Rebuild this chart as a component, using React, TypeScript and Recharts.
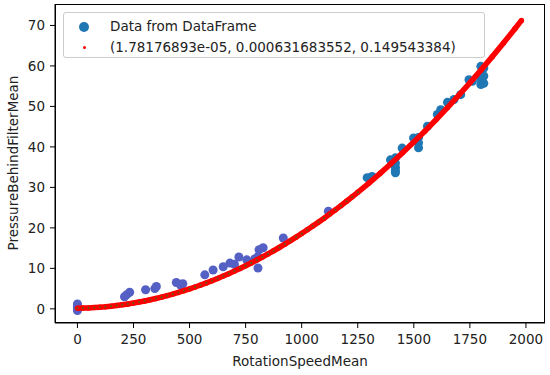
import { ScatterChart, Scatter, XAxis, YAxis, Legend, Cell } from "recharts";

// measured points (RotationSpeedMean, PressureBehindFilterMean)
const speedMean = [
  0, 0, 0, 0, 210, 220, 233, 304, 345, 352, 441, 460, 470,
  568, 605, 650, 680, 700, 720, 755, 790, 805, 805, 810, 828, 918, 1119,
  1292, 1314, 1396, 1418, 1418, 1418, 1418, 1418, 1448, 1499, 1521, 1521, 1521,
  1561, 1605, 1620, 1650, 1679, 1709, 1746, 1761, 1799, 1799, 1799, 1799, 1812, 1812, 1812,
];
const pressureMean = [
  -0.4, 0.3, 0.8, 1.2, 3.0, 3.5, 4.1, 4.7, 5.0, 5.5, 6.5, 5.9, 6.2,
  8.4, 9.6, 10.4, 11.3, 11.0, 12.8, 12.1, 12.3, 10.1, 12.9, 14.6, 15.1, 17.5, 24.1,
  32.4, 32.7, 36.8, 37.3, 36.0, 35.0, 34.2, 33.6, 39.7, 42.2, 42.3, 41.0, 39.8,
  45.1, 48.0, 49.2, 51.0, 51.7, 52.9, 56.6, 56.2, 59.9, 58.2, 56.8, 55.4, 59.5, 57.5, 55.7,
];

// fitted curve, read along the red band
const fitSpeed = [
  0, 25, 50, 75, 100, 125, 150, 175, 200, 225, 250, 275, 300, 325, 350, 375, 400, 425,
  450, 475, 500, 525, 550, 575, 600, 625, 650, 675, 700, 725, 750, 775, 800, 825, 850,
  875, 900, 925, 950, 975, 1000, 1025, 1050, 1075, 1100, 1125, 1150, 1175, 1200, 1225,
  1250, 1300, 1350, 1400, 1450, 1500, 1550, 1600, 1650, 1700, 1750, 1800, 1850, 1900,
  1950, 1980,
];
const fitPressure = [
  0.15, 0.18, 0.23, 0.3, 0.39, 0.5, 0.65, 0.81, 0.99, 1.2, 1.42, 1.67, 1.94, 2.24,
  2.55, 2.89, 3.25, 3.64, 4.04, 4.47, 4.92, 5.39, 5.89, 6.4, 6.94, 7.5, 8.09, 8.69,
  9.32, 9.97, 10.65, 11.34, 12.06, 12.8, 13.56, 14.35, 15.15, 15.98, 16.83, 17.7,
  18.6, 19.52, 20.46, 21.42, 22.4, 23.41, 24.44, 25.49, 26.57, 27.67, 28.78, 31.08,
  33.48, 35.96, 38.53, 41.19, 43.94, 46.77, 49.7, 52.72, 55.82, 59.02, 62.3, 65.67,
  69.13, 71.25,
];

const xTicks = [0, 250, 500, 750, 1000, 1250, 1500, 1750, 2000];
const yTicks = [0, 10, 20, 30, 40, 50, 60, 70];

const font = "'DejaVu Sans', sans-serif";

const measured = speedMean.map((x, i) => ({ x, y: pressureMean[i] }));
const fit = fitSpeed.map((x, i) => ({ x, y: fitPressure[i] }));

function FitDot(p: any) {
  const low = p.payload && p.payload.x <= 1250;
  return (
    <g>
      <circle cx={p.cx} cy={p.cy} r={2.7} fill="#ff0000" />
      {low && <circle cx={p.cx} cy={p.cy} r={1.1} fill="#6e5410" />}
    </g>
  );
}

function LegendBox() {
  return (
    <div
      style={{
        width: 422,
        height: 46,
        border: "1px solid #cccccc",
        borderRadius: 3,
        background: "rgba(255,255,255,0.8)",
        fontFamily: font,
        fontSize: 13.5,
        color: "#222",
        position: "relative",
        boxSizing: "border-box",
      }}
    >
      <span style={{ position: "absolute", left: 15, top: 9, width: 10, height: 10, borderRadius: 5, background: "#1f77b4" }} />
      <span style={{ position: "absolute", left: 46, top: 5 }}>Data from DataFrame</span>
      <span style={{ position: "absolute", left: 18.5, top: 33, width: 3, height: 3, borderRadius: 2, background: "#ff0000" }} />
      <span style={{ position: "absolute", left: 46, top: 26 }}>
        (1.78176893e-05, 0.000631683552, 0.149543384)
      </span>
    </div>
  );
}

export default function App() {
  return (
    <div style={{ position: "relative", width: 550, height: 375, background: "#fff" }}>
      <style>{`body{margin:0}`}</style>
      <ScatterChart width={550} height={375} margin={{ top: 4, right: 5, left: 0, bottom: 0 }}>
        <XAxis
          type="number"
          dataKey="x"
          domain={[-100, 2085]}
          ticks={xTicks}
          allowDataOverflow
          height={52}
          tickSize={5}
          tickMargin={6}
          axisLine={{ stroke: "#000" }}
          tickLine={{ stroke: "#000" }}
          tick={{ fill: "#222", fontSize: 13.5, fontFamily: font }}
          label={{
            value: "RotationSpeedMean",
            position: "insideBottom",
            offset: 9,
            fill: "#222",
            fontSize: 13.5,
            fontFamily: font,
          }}
        />
        <YAxis
          type="number"
          dataKey="y"
          domain={[-3.5, 75.3]}
          ticks={yTicks}
          allowDataOverflow
          width={55}
          tickSize={5}
          tickMargin={5}
          axisLine={{ stroke: "#000" }}
          tickLine={{ stroke: "#000" }}
          tick={{ fill: "#222", fontSize: 13.5, fontFamily: font }}
          label={{
            content: () => (
              <text
                x={13}
                y={163}
                transform="rotate(-90 13 163)"
                textAnchor="middle"
                dominantBaseline="central"
                fill="#222"
                fontSize={13.5}
                fontFamily={font}
              >
                PressureBehindFilterMean
              </text>
            ),
          }}
        />
        <Legend
          layout="horizontal"
          verticalAlign="middle"
          align="center"
          wrapperStyle={{ position: "absolute", left: 63, top: 12, width: "auto", height: "auto" }}
          content={() => <LegendBox />}
        />
        <Scatter data={measured} isAnimationActive={false} shape="circle">
          {measured.map((d, i) => (
            <Cell key={i} fill={d.y < 26 ? "#5560c4" : "#1f77b4"} />
          ))}
        </Scatter>
        <Scatter
          data={fit}
          isAnimationActive={false}
          fill="#ff0000"
          line={{ stroke: "#ff0000", strokeWidth: 5.5 }}
          lineType="joint"
          shape={FitDot}
        />
      </ScatterChart>
      <div
        style={{
          position: "absolute",
          left: 55,
          top: 4,
          width: 490,
          height: 319,
          border: "1px solid #000",
          boxSizing: "border-box",
          pointerEvents: "none",
        }}
      />
    </div>
  );
}
